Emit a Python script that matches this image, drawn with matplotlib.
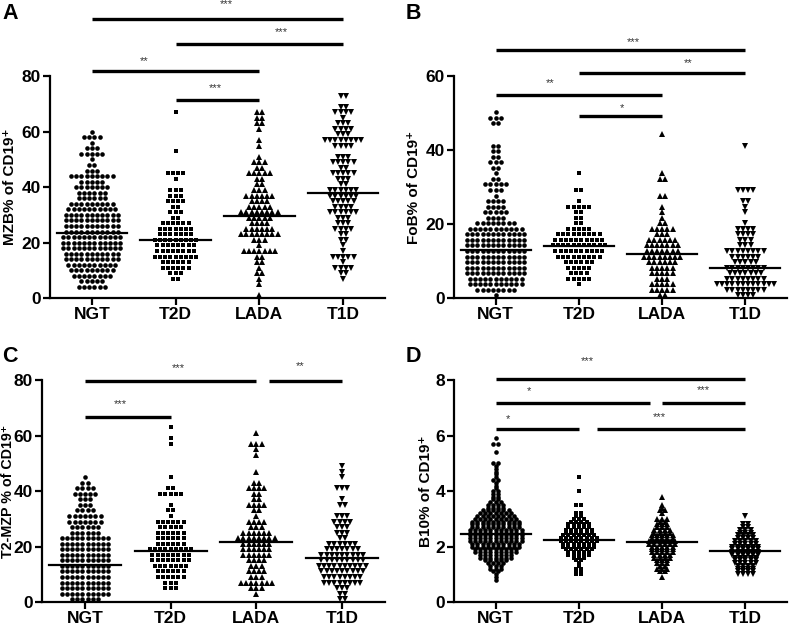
import numpy as np
import matplotlib
matplotlib.use("Agg")
from matplotlib import pyplot as plt

groups = ["NGT", "T2D", "LADA", "T1D"]
markers = ["o", "s", "^", "v"]

# A: MZB% of CD19+  (points per value row, rows every 2 units from the start value)
mzb_start = [4, 7, 1, 7]
mzb_step = 2
mzb_counts = [
    [6, 5, 8, 9, 10, 11, 11, 12, 12, 12, 11, 11, 11, 11, 10, 9, 6, 6, 7, 5, 9, 3, 2, 1, 5, 3, 1, 4, 1],
    [2, 3, 6, 6, 9, 8, 8, 9, 7, 7, 6, 2, 3, 2, 4, 3, 3, 0, 1, 4, 0, 0, 0, 1, 0, 0, 0, 0, 0, 0, 1],
    [1, 0, 1, 1, 2, 1, 2, 2, 7, 1, 3, 8, 6, 4, 5, 8, 5, 4, 6, 3, 2, 2, 5, 2, 3, 1, 0, 1, 1, 0, 1, 2, 2, 2],
    [1, 2, 4, 1, 5, 1, 1, 2, 2, 4, 3, 3, 6, 4, 5, 6, 6, 2, 3, 5, 2, 5, 3, 0, 4, 8, 3, 4, 3, 1, 4, 2, 0, 2],
]
mzb_median = [23.5, 21, 29.5, 38]

# B: FoB% of CD19+
fob_start = [0.75, 3.75, 0.75, 0.75]
fob_step = 1.5
fob_counts = [
    [1, 8, 11, 11, 12, 12, 12, 12, 12, 12, 12, 12, 11, 8, 4, 5, 4, 4, 1, 3, 5, 2, 1, 2, 3, 2, 2, 2, 0, 0, 0, 2, 3, 1],
    [1, 5, 4, 5, 6, 9, 10, 11, 10, 9, 5, 2, 2, 2, 5, 1, 0, 2, 0, 0, 1],
    [2, 5, 5, 3, 5, 5, 6, 8, 7, 7, 6, 3, 5, 2, 1, 1, 1, 0, 2, 0, 0, 2, 1, 0, 0, 0, 0, 0, 0, 1],
    [4, 8, 12, 8, 7, 8, 5, 6, 8, 3, 3, 4, 4, 1, 0, 1, 1, 2, 0, 4, 0, 0, 0, 0, 0, 0, 0, 1],
]
fob_median = [13, 14, 12, 8.2]

# C: T2-MZP % of CD19+
mzp_start = [1, 5, 3, 1]
mzp_step = 2
mzp_counts = [
    [6, 10, 10, 10, 10, 10, 10, 10, 10, 10, 10, 10, 6, 6, 7, 7, 4, 3, 3, 5, 4, 2, 1],
    [3, 3, 6, 6, 7, 8, 8, 9, 6, 6, 6, 5, 6, 1, 2, 1, 0, 5, 2, 0, 1, 0, 0, 0, 0, 0, 1, 1, 0, 1],
    [1, 3, 7, 3, 4, 3, 4, 6, 6, 6, 8, 6, 3, 4, 1, 2, 4, 2, 2, 4, 2, 0, 1, 0, 0, 1, 1, 3, 0, 1],
    [2, 2, 3, 8, 8, 9, 10, 9, 9, 7, 6, 2, 3, 3, 4, 3, 0, 2, 1, 0, 3, 0, 1, 1, 1],
]
mzp_median = [13.5, 18.3, 21.5, 16]

# D: B10% of CD19+
b10_start = [0.8, 1.0, 0.9, 1.0]
b10_step = 0.1
b10_counts = [
    [1, 1, 1, 2, 3, 3, 4, 5, 7, 7, 9, 9, 10, 10, 11, 11, 11, 11, 11, 10, 10, 10, 9, 8, 7, 6, 4, 4, 3, 2,
     2, 2, 2, 1, 1, 1, 2, 1, 1, 1, 1, 1, 2, 0, 0, 0, 1, 0, 0, 2, 0, 1],
    [2, 2, 2, 1, 1, 2, 3, 5, 5, 6, 7, 7, 8, 8, 7, 6, 6, 5, 5, 4, 3, 2, 2, 0, 0, 2, 0, 0, 0, 0, 1, 0, 0, 0, 0, 1],
    [1, 0, 2, 3, 2, 3, 3, 4, 4, 5, 5, 5, 6, 6, 5, 5, 4, 4, 3, 3, 2, 3, 0, 1, 2, 1, 1, 0, 0, 1],
    [4, 4, 4, 4, 5, 5, 5, 6, 6, 6, 6, 5, 5, 4, 4, 3, 3, 2, 2, 0, 0, 1],
]
b10_median = [2.45, 2.25, 2.15, 1.85]

# significance bars (from group, to group, height) and their stars (x, y, text)
mzb_bars = [(0, 3, 100.5), (1, 3, 91.5), (0, 2, 81.8), (1, 2, 71.4)]
mzb_stars = [(1.6, 106, "***"), (2.26, 95.8, "***"), (0.62, 85.4, "**"), (1.48, 75.7, "***")]
fob_bars = [(0, 3, 67), (1, 3, 60.8), (0, 2, 54.9), (1, 2, 49.2)]
fob_stars = [(1.65, 69.2, "***"), (2.31, 63.6, "**"), (0.66, 58.2, "**"), (1.52, 51.4, "*")]
mzp_bars = [(0, 2, 79.7), (2.15, 3, 79.7), (0, 1, 66.7)]
mzp_stars = [(1.09, 84.3, "***"), (2.51, 85, "**"), (0.41, 71.4, "***")]
b10_bars = [(0, 3, 8.05), (0, 1.85, 7.16), (2.0, 3, 7.16), (0, 1, 6.25), (1.22, 3, 6.25)]
b10_stars = [(1.1, 8.7, "***"), (0.4, 7.6, "*"), (2.49, 7.64, "***"), (0.15, 6.58, "*"), (1.97, 6.65, "***")]


def panel(ax, starts, step, counts, medians, ymax, yticks, ylabel, bars, stars, lsize=11):
    ax.set_xlim(-0.5, 3.5)
    ax.set_ylim(0, ymax)
    fig = ax.figure
    px_x = ax.get_position().width * fig.get_figwidth() * fig.dpi / 4.0
    sp = 5.2 / px_x  # horizontal spacing between neighbours in a row
    for g in range(4):
        xs, ys = [], []
        for i, n in enumerate(counts[g]):
            v = starts[g] + i * step
            for k in range(n):
                xs.append(g + (k - (n - 1) / 2.0) * sp)
                ys.append(v)
        ms = {"o": 3.3, "s": 3.0, "^": 3.9, "v": 3.9}[markers[g]]
        ax.plot(xs, ys, linestyle="none", marker=markers[g], color="black",
                markersize=ms, markeredgewidth=0, clip_on=False)
        ax.plot([g - 0.42, g + 0.42], [medians[g]] * 2, color="black", lw=1.6)
    for x1, x2, y in bars:
        ax.plot([x1, x2], [y, y], color="black", lw=2.4, clip_on=False, solid_capstyle="butt")
    for x, y, t in stars:
        ax.text(x, y, t, ha="center", va="center", fontsize=8, color="#333333")
    ax.set_xticks(range(4))
    ax.set_xticklabels(groups)
    ax.set_yticks(yticks)
    ax.spines["top"].set_visible(False)
    ax.spines["right"].set_visible(False)
    for s in ("left", "bottom"):
        ax.spines[s].set_linewidth(1.6)
    ax.tick_params(direction="out", length=5, width=1.6, labelsize=12.5, pad=1.5)
    for lab in ax.get_xticklabels() + ax.get_yticklabels():
        lab.set_fontweight("bold")
    ax.set_ylabel(ylabel, fontsize=lsize, fontweight="bold")


plt.rcParams["font.family"] = ["Liberation Sans", "DejaVu Sans"]
fig = plt.figure(figsize=(7.93, 6.25), dpi=100)

axA = fig.add_axes([0.063, 0.523, 0.4225, 0.355])
axB = fig.add_axes([0.5725, 0.523, 0.42, 0.355])
axC = fig.add_axes([0.053, 0.0368, 0.4325, 0.355])
axD = fig.add_axes([0.5725, 0.0368, 0.42, 0.355])

panel(axA, mzb_start, mzb_step, mzb_counts, mzb_median, 80, [0, 20, 40, 60, 80],
      "MZB% of CD19\u207a", mzb_bars, mzb_stars)
panel(axB, fob_start, fob_step, fob_counts, fob_median, 60, [0, 20, 40, 60],
      "FoB% of CD19\u207a", fob_bars, fob_stars)
panel(axC, mzp_start, mzp_step, mzp_counts, mzp_median, 80, [0, 20, 40, 60, 80],
      "T2-MZP % of CD19\u207a", mzp_bars, mzp_stars, lsize=10.3)
panel(axD, b10_start, b10_step, b10_counts, b10_median, 8, [0, 2, 4, 6, 8],
      "B10% of CD19\u207a", b10_bars, b10_stars)

axA.yaxis.set_label_coords(-0.098, 0.5)
axB.yaxis.set_label_coords(-0.099, 0.5)
axC.yaxis.set_label_coords(-0.078, 0.5)
axD.yaxis.set_label_coords(-0.063, 0.5)

for x, y, t in [(0.003, 0.995, "A"), (0.511, 0.995, "B"), (0.003, 0.446, "C"), (0.511, 0.446, "D")]:
    fig.text(x, y, t, fontsize=15.5, fontweight="bold", va="top", ha="left")

fig.savefig("out.png", dpi=100)
